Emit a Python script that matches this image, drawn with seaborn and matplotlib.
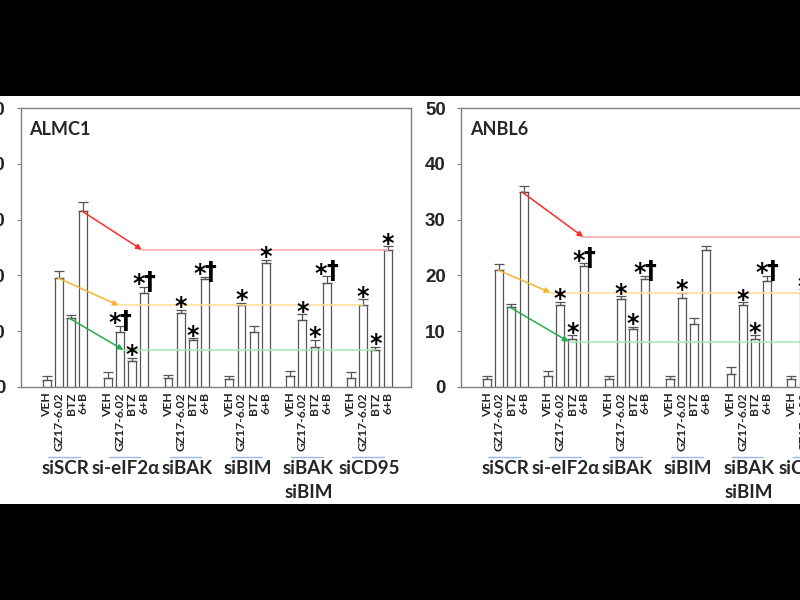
import numpy as np
import pandas as pd
import matplotlib
matplotlib.use("Agg")
import matplotlib.pyplot as plt
from matplotlib.patches import Rectangle
import seaborn as sns

groups = ["siSCR", "si-eIF2\u03b1", "siBAK", "siBIM", "siBAK\nsiBIM", "siCD95"]
treatments = ["VEH", "GZ17-6.02", "BTZ", "6+B"]

# ALMC1, 4 bars per siRNA group
almc1_mean = [1.2, 19.6, 12.3, 31.6,
              1.6, 9.9, 4.6, 16.9,
              1.6, 13.3, 8.3, 19.3,
              1.3, 14.6, 9.9, 22.3,
              1.9, 12.0, 7.2, 18.7,
              1.6, 14.6, 6.6, 24.6]
almc1_err = [0.7, 1.2, 0.5, 1.5,
             1.1, 1.0, 0.6, 1.0,
             0.5, 0.5, 0.4, 0.4,
             0.6, 0.5, 1.0, 0.5,
             1.0, 1.0, 1.2, 1.1,
             1.1, 1.1, 0.6, 0.6]
almc1_marks = ["", "", "", "",
               "", "*†", "*", "*†",
               "", "*", "*", "*†",
               "", "*", "", "*",
               "", "*", "*", "*†",
               "", "*", "*", "*"]

# ANBL6
anbl6_mean = [1.3, 21.0, 14.3, 35.0,
              1.9, 14.6, 8.6, 21.6,
              1.3, 15.7, 10.3, 19.3,
              1.3, 16.0, 11.3, 24.6,
              2.3, 14.6, 8.6, 19.0,
              1.3, 16.9, 8.1, 26.9]
anbl6_err = [0.6, 1.0, 0.6, 1.0,
             1.0, 0.7, 0.6, 0.6,
             0.6, 0.5, 0.5, 0.6,
             0.6, 0.9, 1.1, 0.7,
             1.2, 0.6, 0.6, 0.9,
             0.6, 0.6, 0.6, 0.6]
anbl6_marks = ["", "", "", "",
               "", "*", "*", "*†",
               "", "*", "*", "*†",
               "", "*", "", "",
               "", "*", "*", "*†",
               "", "*", "*", "*"]

# where the guide arrows from siSCR (GZ, BTZ, 6+B) land
almc1_arrow_end = [5.9, 6.3, 7.8]
anbl6_arrow_end = [5.2, 6.7, 7.9]
arrow_colors = ["#f7b431", "#27ad4c", "#ff2b2b"]
line_colors = ["#ffdc92", "#a6e6b6", "#ffa6a6"]

positions = [g * 5 + k for g in range(len(groups)) for k in range(len(treatments))]
tick_labels = treatments * len(groups)

sns.set_theme(style="white")
plt.rcParams["font.family"] = ["Lato", "DejaVu Sans"]

fig = plt.figure(figsize=(8, 6), dpi=100)
fig.patch.set_facecolor("black")
fig.add_artist(Rectangle((0, 0.16), 1, 0.68, transform=fig.transFigure,
                         facecolor="white", edgecolor="none", zorder=-10))

edge = "#555555"


def put_mark(ax, text, x, y, dx, dy, size):
    ax.annotate(text, (x, y), xytext=(dx, dy), textcoords="offset points",
                ha="center", va="baseline", fontsize=size, fontweight="bold",
                family="DejaVu Sans", color="black", zorder=5)


def draw_panel(ax, title, mean, err, marks, arrow_end):
    df = pd.DataFrame({"pos": positions, "value": mean})
    sns.barplot(data=df, x="pos", y="value", native_scale=True, width=0.65,
                color="white", saturation=1, edgecolor=edge, linewidth=0.9,
                errorbar=None, ax=ax)
    ax.errorbar(positions, mean, yerr=[np.zeros(len(mean)), err], fmt="none",
                ecolor=edge, elinewidth=0.9, capsize=3.5, capthick=0.9, zorder=3)

    # guide arrows + horizontal reference lines (level = siCD95 bar)
    for i, k in enumerate([1, 2, 3]):
        level = mean[20 + k]
        ax.annotate("", xy=(arrow_end[i], level), xytext=(positions[k] - 0.15, mean[k]),
                    arrowprops=dict(arrowstyle="-|>", color=arrow_colors[i], lw=1.1,
                                    mutation_scale=8, shrinkA=0, shrinkB=0), zorder=4)
        ax.plot([arrow_end[i], positions[20 + k]], [level, level],
                color=line_colors[i], lw=1.1, zorder=3)

    for x, m, e, s in zip(positions, mean, err, marks):
        if "†" in s:
            put_mark(ax, "*", x, m + e, -4.0, -3.2, 17)
            put_mark(ax, "†", x, m + e, 3.8, -1.2, 17)
        elif s:
            put_mark(ax, "*", x, m + e, 0, -3.2, 17)

    ax.set_xlim(-2.14, 29.93)
    ax.set_ylim(0, 50)
    ax.set_yticks(range(0, 51, 10))
    ax.set_xticks(positions)
    ax.set_xticklabels(tick_labels, rotation=90, fontsize=8.7, fontweight="bold")
    ax.tick_params(axis="x", length=0, pad=4)
    ax.tick_params(axis="y", length=3, width=0.8, color="#808080", pad=8, left=True)
    for t in ax.get_yticklabels():
        t.set_fontsize(13.5)
        t.set_fontweight("bold")
        t.set_family("Liberation Sans")
    ax.set_xlabel("")
    ax.set_ylabel("")
    for sp in ax.spines.values():
        sp.set_color("#7f7f7f")
        sp.set_linewidth(1)

    ax.text(0.022, 0.955, title, transform=ax.transAxes, ha="left", va="top",
            fontsize=13, fontweight="bold")

    trans = ax.get_xaxis_transform()
    for g, name in enumerate(groups):
        x0 = g * 5
        ax.plot([x0 + 0.1, x0 + 2.7], [-0.2525, -0.2525], transform=trans,
                color="#9cb8e6", lw=1, clip_on=False)
        ax.text(x0 + 1.5, -0.262, name, transform=trans, ha="center", va="top",
                fontsize=13.5, fontweight="bold", linespacing=1.55)


ax1 = fig.add_axes([0.0259, 0.3555, 0.4879, 0.464])
ax2 = fig.add_axes([0.5763, 0.3555, 0.4879, 0.464])
draw_panel(ax1, "ALMC1", almc1_mean, almc1_err, almc1_marks, almc1_arrow_end)
draw_panel(ax2, "ANBL6", anbl6_mean, anbl6_err, anbl6_marks, anbl6_arrow_end)

fig.savefig("out.png", dpi=100, facecolor=fig.get_facecolor())
